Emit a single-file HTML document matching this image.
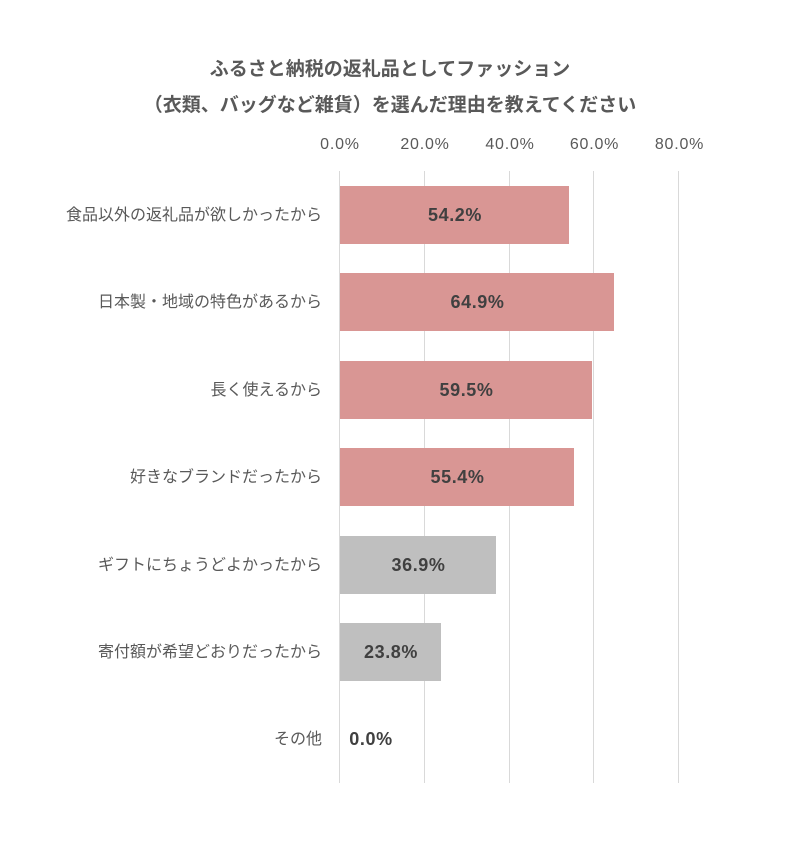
<!DOCTYPE html>
<html><head><meta charset="utf-8"><style>
html,body{margin:0;padding:0;background:#fff;}
text{font-family:"Liberation Sans","Noto Sans CJK JP",sans-serif;}
</style></head><body>
<svg width="790" height="837" viewBox="0 0 790 837" xmlns="http://www.w3.org/2000/svg">
<rect width="790" height="837" fill="#fff"/>
<g fill="#595959" font-size="19" font-weight="bold" text-anchor="middle">
<text x="390" y="75">ふるさと納税の返礼品としてファッション</text>
<text x="390" y="111">（衣類、バッグなど雑貨）を選んだ理由を教えてください</text>
</g>
<g fill="#595959" font-size="16" letter-spacing="0.8" text-anchor="middle">
<text x="340" y="149">0.0%</text>
<text x="425" y="149">20.0%</text>
<text x="510" y="149">40.0%</text>
<text x="594.5" y="149">60.0%</text>
<text x="679.5" y="149">80.0%</text>
</g>
<g stroke="#d9d9d9" stroke-width="1">
<line x1="339.5" y1="171" x2="339.5" y2="783"/>
<line x1="424.5" y1="171" x2="424.5" y2="783"/>
<line x1="509.5" y1="171" x2="509.5" y2="783"/>
<line x1="593.5" y1="171" x2="593.5" y2="783"/>
<line x1="678.5" y1="171" x2="678.5" y2="783"/>
</g>
<g>
<rect x="340" y="186" width="229" height="58" fill="#d99694"/>
<rect x="340" y="273" width="274" height="58" fill="#d99694"/>
<rect x="340" y="361" width="252" height="58" fill="#d99694"/>
<rect x="340" y="448" width="234" height="58" fill="#d99694"/>
<rect x="340" y="536" width="156" height="58" fill="#bfbfbf"/>
<rect x="340" y="623" width="101" height="58" fill="#bfbfbf"/>
</g>
<g fill="#404040" font-size="18" font-weight="bold" letter-spacing="0.6" text-anchor="middle">
<text x="455" y="221">54.2%</text>
<text x="477.5" y="308">64.9%</text>
<text x="466.5" y="396">59.5%</text>
<text x="457.5" y="483">55.4%</text>
<text x="418.5" y="571">36.9%</text>
<text x="391" y="658">23.8%</text>
<text x="371" y="745">0.0%</text>
</g>
<g fill="#595959" font-size="16" text-anchor="end">
<text x="322" y="220">食品以外の返礼品が欲しかったから</text>
<text x="322" y="307">日本製・地域の特色があるから</text>
<text x="322" y="395">長く使えるから</text>
<text x="322" y="482">好きなブランドだったから</text>
<text x="322" y="570">ギフトにちょうどよかったから</text>
<text x="322" y="657">寄付額が希望どおりだったから</text>
<text x="322" y="744">その他</text>
</g>
</svg>
</body></html>
